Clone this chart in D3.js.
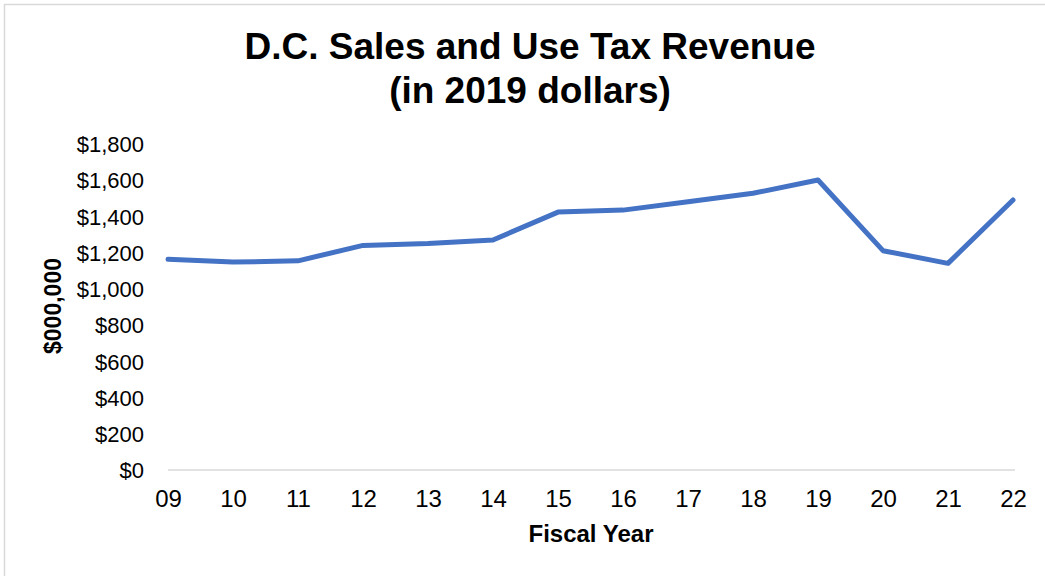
<!DOCTYPE html>
<html>
<head>
<meta charset="utf-8">
<script src="https://cdn.jsdelivr.net/npm/d3@7"></script>
<style>
  html, body { margin: 0; padding: 0; background: #fff; }
  svg { display: block; font-family: "Liberation Sans", Arial, sans-serif; }
</style>
</head>
<body>
<svg id="chart" width="1045" height="576"></svg>
<script>
// Fiscal years (two-digit labels) and real revenue, $ millions in 2019 dollars
const years = ["09", "10", "11", "12", "13", "14", "15", "16", "17", "18", "19", "20", "21", "22"];
const revenue = [1163, 1148, 1155, 1240, 1250, 1270, 1424, 1435, 1481, 1528, 1601, 1211, 1141, 1491];
const yTicks = [0, 200, 400, 600, 800, 1000, 1200, 1400, 1600, 1800];
const titleLines = ["D.C. Sales and Use Tax Revenue", "(in 2019 dollars)"];
const xTitle = "Fiscal Year";
const yTitle = "$000,000";

const svg = d3.select("#chart");
const W = 1045, H = 576;
const margin = { left: 168, right: 30, top: 144, bottom: 106 };

// Chart frame
svg.append("rect")
  .attr("x", 4.5).attr("y", 4.5)
  .attr("width", W + 10).attr("height", H + 10)
  .attr("fill", "#fff")
  .attr("stroke", "#d9d9d9").attr("stroke-width", 1.5);

const x = d3.scalePoint()
  .domain(years)
  .range([margin.left, 1013]);

const y = d3.scaleLinear()
  .domain([0, 1800])
  .range([470, margin.top]);

// Title
const title = svg.append("text")
  .attr("text-anchor", "middle")
  .attr("font-weight", "bold")
  .attr("font-size", 37)
  .attr("fill", "#000");
title.selectAll("tspan")
  .data(titleLines)
  .join("tspan")
  .attr("x", 530)
  .attr("y", (d, i) => 59 + i * 44)
  .text(d => d);

// Y axis (labels only)
const yAxis = d3.axisLeft(y)
  .tickValues(yTicks)
  .tickSize(0)
  .tickPadding(0)
  .tickFormat(d => "$" + d3.format(",")(d));
const gy = svg.append("g")
  .attr("transform", "translate(144,0)")
  .call(yAxis);
gy.select(".domain").remove();
gy.selectAll("text")
  .attr("font-size", 22)
  .attr("font-family", "Liberation Sans, Arial, sans-serif")
  .attr("fill", "#000")
  .attr("dy", "0.35em");

// X axis
const xAxis = d3.axisBottom(x).tickSize(0).tickPadding(0);
const gx = svg.append("g")
  .attr("transform", "translate(0,470)")
  .call(xAxis);
gx.select(".domain").remove();
gx.append("line")
  .attr("x1", x.range()[0]).attr("x2", 1015)
  .attr("y1", 0).attr("y2", 0)
  .attr("stroke", "#d9d9d9").attr("stroke-width", 1.5);
gx.selectAll("text")
  .attr("font-size", 24)
  .attr("font-family", "Liberation Sans, Arial, sans-serif")
  .attr("fill", "#000")
  .attr("dy", 0)
  .attr("y", 36.5);

// Axis titles
svg.append("text")
  .attr("x", 591).attr("y", 541.5)
  .attr("text-anchor", "middle")
  .attr("font-weight", "bold")
  .attr("font-size", 24)
  .text(xTitle);

svg.append("text")
  .attr("transform", "translate(61,306) rotate(-90)")
  .attr("text-anchor", "middle")
  .attr("font-weight", "bold")
  .attr("font-size", 23)
  .text(yTitle);

// Revenue line
const line = d3.line()
  .x((d, i) => x(years[i]))
  .y(d => y(d));

svg.append("path")
  .datum(revenue)
  .attr("d", line)
  .attr("fill", "none")
  .attr("stroke", "#4472C4")
  .attr("stroke-width", 5)
  .attr("stroke-linejoin", "round")
  .attr("stroke-linecap", "round");
</script>
</body>
</html>
